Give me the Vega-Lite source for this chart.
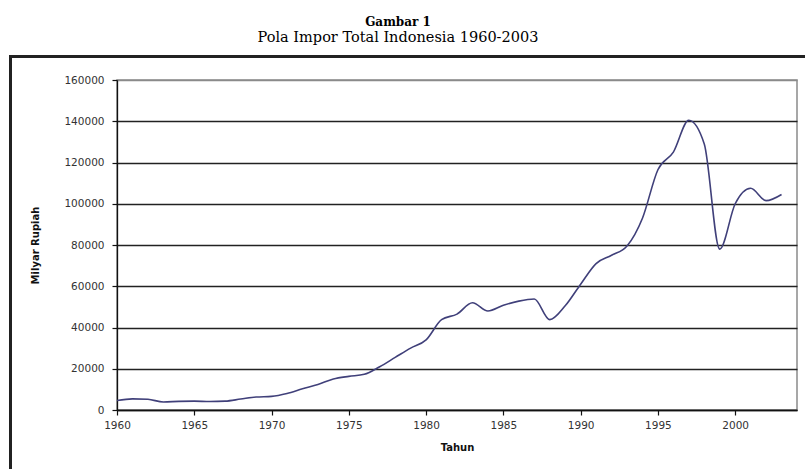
{
  "$schema": "https://vega.github.io/schema/vega-lite/v6.json",
  "width": 680,
  "height": 330,
  "autosize": "none",
  "padding": {"left": 117, "top": 80, "right": 8, "bottom": 59},
  "background": "white",
  "config": {
    "view": {"stroke": "#8a8a8a", "strokeWidth": 1.5},
    "axis": {
      "labelFont": "DejaVu Sans",
      "labelFontSize": 10.5,
      "labelColor": "#333",
      "titleFont": "DejaVu Sans",
      "titleFontSize": 10,
      "titleFontWeight": "bold",
      "titleColor": "#111",
      "domainColor": "#111",
      "domainWidth": 1.3,
      "tickColor": "#111",
      "tickWidth": 1.2
    }
  },
  "title": {
    "text": "Gambar 1",
    "subtitle": "Pola Impor Total Indonesia 1960-2003",
    "font": "DejaVu Serif",
    "fontSize": 12,
    "fontWeight": "bold",
    "color": "#000",
    "subtitleFont": "DejaVu Serif",
    "subtitleFontSize": 14.5,
    "subtitleColor": "#000",
    "subtitlePadding": 2,
    "anchor": "middle",
    "frame": "group",
    "dx": -59,
    "offset": 10
  },
  "resolve": {"axis": {"x": "independent", "y": "independent"}},
  "data": {
    "values": [
      {"year": 1960, "impor": 4600},
      {"year": 1961, "impor": 5400},
      {"year": 1962, "impor": 5200},
      {"year": 1963, "impor": 3900},
      {"year": 1964, "impor": 4200},
      {"year": 1965, "impor": 4300},
      {"year": 1966, "impor": 4100},
      {"year": 1967, "impor": 4300},
      {"year": 1968, "impor": 5300},
      {"year": 1969, "impor": 6300},
      {"year": 1970, "impor": 6600},
      {"year": 1971, "impor": 8000},
      {"year": 1972, "impor": 10300},
      {"year": 1973, "impor": 12400},
      {"year": 1974, "impor": 15000},
      {"year": 1975, "impor": 16300},
      {"year": 1976, "impor": 17300},
      {"year": 1977, "impor": 21000},
      {"year": 1978, "impor": 25500},
      {"year": 1979, "impor": 30000},
      {"year": 1980, "impor": 34000},
      {"year": 1981, "impor": 43800},
      {"year": 1982, "impor": 46500},
      {"year": 1983, "impor": 52000},
      {"year": 1984, "impor": 48000},
      {"year": 1985, "impor": 50800},
      {"year": 1986, "impor": 52800},
      {"year": 1987, "impor": 53800},
      {"year": 1988, "impor": 43800},
      {"year": 1989, "impor": 50500},
      {"year": 1990, "impor": 61000},
      {"year": 1991, "impor": 71000},
      {"year": 1992, "impor": 75000},
      {"year": 1993, "impor": 79500},
      {"year": 1994, "impor": 93000},
      {"year": 1995, "impor": 116500},
      {"year": 1996, "impor": 125000},
      {"year": 1997, "impor": 140500},
      {"year": 1998, "impor": 129000},
      {"year": 1999, "impor": 78000},
      {"year": 2000, "impor": 100000},
      {"year": 2001, "impor": 107500},
      {"year": 2002, "impor": 101500},
      {"year": 2003, "impor": 104500}
    ]
  },
  "layer": [
    {
      "mark": {"type": "line", "color": "#40407a", "strokeWidth": 1.6, "interpolate": "monotone"},
      "encoding": {
        "x": {
          "field": "year",
          "type": "quantitative",
          "scale": {"domain": [1960, 2004], "nice": false, "zero": false},
          "axis": {
            "title": "Tahun",
            "values": [1960, 1965, 1970, 1975, 1980, 1985, 1990, 1995, 2000],
            "format": "d",
            "grid": false,
            "tickSize": 5,
            "labelPadding": 5,
            "labelFlush": false,
            "titlePadding": 12
          }
        },
        "y": {
          "field": "impor",
          "type": "quantitative",
          "scale": {"domain": [0, 160000], "nice": false},
          "axis": {
            "title": "Milyar Rupiah",
            "values": [0, 20000, 40000, 60000, 80000, 100000, 120000, 140000, 160000],
            "format": "d",
            "grid": true,
            "gridColor": {"condition": {"test": "datum.value >= 160000", "value": "#8a8a8a"}, "value": "#222"},
            "gridWidth": 1.3,
            "tickSize": 5,
            "labelPadding": 8,
            "labelFlush": false,
            "titlePadding": 23
          }
        }
      }
    },
    {
      "mark": {"type": "rect", "fill": null, "fillOpacity": 0, "stroke": "#222", "strokeWidth": 2, "clip": false},
      "encoding": {
        "x": {"datum": 1953.1, "type": "quantitative", "axis": null},
        "x2": {"datum": 2005.5},
        "y": {"datum": 171400, "type": "quantitative", "axis": null},
        "y2": {"datum": -32000}
      }
    }
  ]
}
